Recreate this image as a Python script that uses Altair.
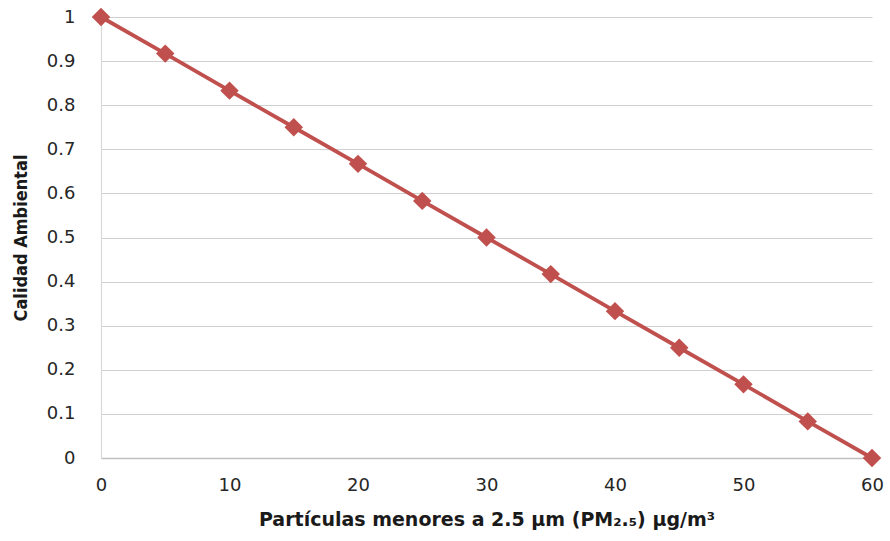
import altair as alt
import pandas as pd

# PM2.5 concentration (µg/m³) and the resulting ambient quality index
pm25 = [0, 5, 10, 15, 20, 25, 30, 35, 40, 45, 50, 55, 60]
calidad = [1.0, 0.917, 0.833, 0.75, 0.667, 0.583, 0.5, 0.417, 0.333, 0.25, 0.167, 0.083, 0.0]

df = pd.DataFrame({"pm25": pm25, "calidad": calidad})

red = "#C0504D"
label_font = "DejaVu Sans"

x = alt.X(
    "pm25:Q",
    scale=alt.Scale(domain=[0, 60], nice=False, zero=False),
    axis=alt.Axis(
        title="Partículas menores a 2.5 µm (PM₂.₅) µg/m³",
        values=[0, 10, 20, 30, 40, 50, 60],
        grid=False,
        ticks=False,
        labelFlush=False,
        domainColor="#BFBFBF",
        domainWidth=1.5,
        labelFont=label_font,
        labelFontSize=18,
        labelColor="#262626",
        labelPadding=18,
        titleFont=label_font,
        titleFontSize=19,
        titleFontWeight="bold",
        titleColor="#1a1a1a",
        titlePadding=16,
    ),
)
y = alt.Y(
    "calidad:Q",
    scale=alt.Scale(domain=[0, 1], nice=False),
    axis=alt.Axis(
        title="Calidad Ambiental",
        values=[0, 0.1, 0.2, 0.3, 0.4, 0.5, 0.6, 0.7, 0.8, 0.9, 1],
        format=".1~f",
        gridColor="#D0D0D0",
        gridWidth=1.2,
        ticks=False,
        labelFlush=False,
        domainColor="#D9D9D9",
        domainWidth=1.2,
        labelFont=label_font,
        labelFontSize=18,
        labelColor="#262626",
        labelPadding=26,
        titleFont="DejaVu Sans Condensed, Liberation Sans",
        titleFontSize=18,
        titleFontWeight="bold",
        titleColor="#1a1a1a",
        titlePadding=16,
    ),
)

line = alt.Chart(df).mark_line(color=red, strokeWidth=3.8).encode(x=x, y=y)
points = alt.Chart(df).mark_point(
    shape="diamond", filled=True, color=red, size=340, opacity=1
).encode(x=x, y=y)

chart = (
    (line + points)
    .properties(width=771, height=441)
    .configure(
        autosize=alt.AutoSizeParams(type="none"),
        padding={"left": 101, "top": 17, "right": 18, "bottom": 83},
    )
    .configure_view(stroke=None)
    .configure_axis(labelFontWeight="normal")
)

chart.save("out.html", embed_options={"renderer": "svg", "actions": False})
